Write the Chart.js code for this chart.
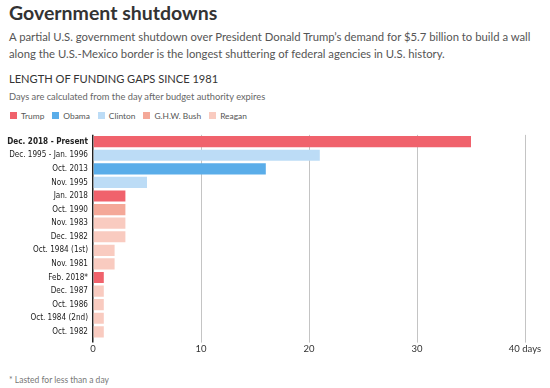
<!DOCTYPE html>
<html>
<head>
<meta charset="utf-8">
<script src="https://cdn.jsdelivr.net/npm/chart.js@4"></script>
<style>
  body { margin: 0; width: 550px; height: 388px; background: #fff; font-family: Lato, sans-serif; color: #333; overflow: hidden; position: relative; }
  h1 { position: absolute; left: 9px; top: 1px; margin: 0; font-size: 19.5px; font-weight: bold; color: #333; }
  .sub { position: absolute; left: 9px; top: 29px; width: 540px; font-size: 11.3px; line-height: 16.5px; color: #555; }
  .head { position: absolute; left: 9px; top: 72px; font-size: 11.1px; color: #333; }
  .note { position: absolute; left: 9px; top: 91px; font-size: 9.3px; color: #666; }
  .legend { position: absolute; left: 10px; top: 111px; font-size: 8.4px; color: #555; }
  .legend span { margin-right: 8px; }
  .legend i { display: inline-block; width: 7px; height: 7px; margin-right: 4px; vertical-align: 0px; }
  .foot { position: absolute; left: 9px; top: 375px; font-size: 8.5px; color: #777; }
  #wrap { position: absolute; left: 0; top: 125px; width: 550px; height: 231px; }
</style>
</head>
<body>
<h1>Government shutdowns</h1>
<div class="sub">A partial U.S. government shutdown over President Donald Trump’s demand for $5.7 billion to build a wall along the U.S.-Mexico border is the longest shuttering of federal agencies in U.S. history.</div>
<div class="head">LENGTH OF FUNDING GAPS SINCE 1981</div>
<div class="note">Days are calculated from the day after budget authority expires</div>
<div class="legend" id="legend"></div>
<div id="wrap"><canvas id="shutdownChart"></canvas></div>
<div class="foot">* Lasted for less than a day</div>
<script>
const labels = ['Dec. 2018 - Present', 'Dec. 1995 - Jan. 1996', 'Oct. 2013', 'Nov. 1995', 'Jan. 2018', 'Oct. 1990', 'Nov. 1983', 'Dec. 1982', 'Oct. 1984 (1st)', 'Nov. 1981', 'Feb. 2018*', 'Dec. 1987', 'Oct. 1986', 'Oct. 1984 (2nd)', 'Oct. 1982'];
const days = [35, 21, 16, 5, 3, 3, 3, 3, 2, 2, 1, 1, 1, 1, 1];
const presidents = ['Trump', 'Clinton', 'Obama', 'Clinton', 'Trump', 'G.H.W. Bush', 'Reagan', 'Reagan', 'Reagan', 'Reagan', 'Trump', 'Reagan', 'Reagan', 'Reagan', 'Reagan'];
const presidentNames = ['Trump', 'Obama', 'Clinton', 'G.H.W. Bush', 'Reagan'];
const presidentColors = ['#f0626c', '#5aade9', '#bcdcf6', '#f4a898', '#f9cbc0'];
const xTicks = [0, 10, 20, 30, 40];

const colorFor = name => presidentColors[presidentNames.indexOf(name)];

document.getElementById('legend').innerHTML = presidentNames
  .map((n, i) => '<span><i style="background:' + presidentColors[i] + '"></i>' + n + '</span>')
  .join('');

new Chart(document.getElementById('shutdownChart'), {
  type: 'bar',
  data: {
    labels: labels,
    datasets: [{
      data: days,
      backgroundColor: presidents.map(colorFor),
      borderWidth: 0,
      barPercentage: 0.82,
      categoryPercentage: 1
    }]
  },
  options: {
    indexAxis: 'y',
    responsive: true,
    maintainAspectRatio: false,
    animation: false,
    layout: { padding: { right: 25, top: 4 } },
    plugins: { legend: { display: false }, tooltip: { enabled: false } },
    scales: {
      x: {
        min: 0,
        max: 40,
        afterBuildTicks: axis => { axis.ticks = xTicks.map(v => ({ value: v })); },
        border: { display: false },
        grid: {
          color: ctx => ctx.tick && ctx.tick.value === 0 ? '#222' : '#c4c4c4',
          lineWidth: ctx => ctx.tick && ctx.tick.value === 0 ? 1.5 : 1,
          tickLength: 4
        },
        ticks: {
          color: '#333',
          font: { family: 'Lato', size: 9.5 },
          padding: 1,
          callback: v => v === 40 ? '40 days' : v
        }
      },
      y: {
        afterFit: axis => { axis.width = 93; },
        border: { display: false },
        grid: { display: false, drawTicks: false },
        ticks: {
          autoSkip: false,
          color: '#222',
          padding: 5,
          font: ctx => ({ family: '"Liberation Sans Narrow", "DejaVu Sans Condensed", Lato', size: 8.1, weight: ctx.index === 0 ? 'bold' : 'normal' })
        }
      }
    }
  }
});
</script>
</body>
</html>
